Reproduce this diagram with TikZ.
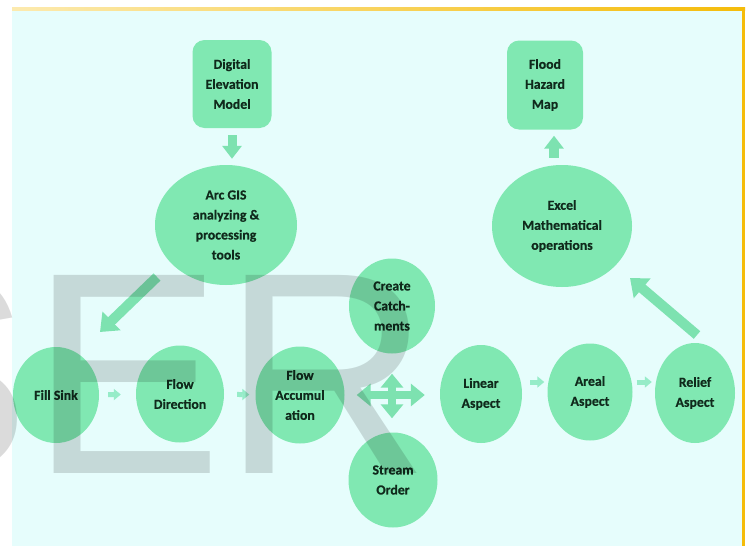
\documentclass[tikz,border=0pt]{standalone}
\usepackage{fontspec}
\setmainfont{Carlito}
\newfontfamily\lblfont[FakeBold=0.5]{Carlito Bold}
\newfontfamily\wmfont{Liberation Sans}
\usetikzlibrary{calc,arrows.meta,shapes.geometric}
\definecolor{bgc}{RGB}{230,253,252}
\definecolor{nodec}{RGB}{128,232,178}
\definecolor{txtc}{RGB}{16,42,28}
\definecolor{arrc}{RGB}{125,226,176}
\definecolor{arrlight}{RGB}{150,236,200}
\definecolor{bordc}{RGB}{245,188,10}
\definecolor{bordl}{RGB}{252,234,175}
\begin{document}
\begin{tikzpicture}[x=1pt,y=-1pt,
  lbl/.style={text=txtc, font=\lblfont\fontsize{13.8}{20}\selectfont, align=center, inner sep=0pt},
  oval/.style={lbl, ellipse, fill=nodec, draw=none},
  rbox/.style={lbl, rectangle, rounded corners=12pt, fill=nodec, draw=none},
  bigarrow/.style={draw=arrc, line width=10pt, -{Triangle[width=25pt,length=16pt]}},
  midarrow/.style={draw=arrc, line width=9pt, -{Triangle[width=19pt,length=13pt]}},
  tinyarrow/.style={draw=arrlight, line width=5pt, -{Triangle[width=11pt,length=7pt]}},
  quadarrow/.style={draw=arrc, line width=8pt, {Triangle[width=22pt,length=14pt]}-{Triangle[width=22pt,length=14pt]}}
]
\useasboundingbox (0,0) rectangle (746,546);
\fill[white] (0,0) rectangle (746,546);
\fill[bgc] (12,9) rectangle (743,546);
\shade[left color=bordl, right color=bordc] (12,7.5) rectangle (745,10);
\fill[bordc] (742,8) rectangle (745,546);

% nodes
\node[rbox, minimum width=79pt, minimum height=88pt] (dem) at (232,84) {Digital\\Elevation\\Model};
\node[rbox, minimum width=76pt, minimum height=89pt] (flood) at (545,85) {Flood\\Hazard\\Map};
\node[oval, minimum width=142pt, minimum height=120pt] (arc) at (226,225) {Arc GIS\\analyzing \&\\processing\\tools};
\node[oval, minimum width=140pt, minimum height=122pt] (excel) at (562,226) {Excel\\Mathematical\\operations};
\node[oval, minimum width=86pt, minimum height=96pt] (fill) at (56,395) {Fill Sink};
\node[oval, minimum width=88pt, minimum height=97pt] (fdir) at (180,394) {Flow\\Direction};
\node[oval, minimum width=89pt, minimum height=97pt] (facc) at (300,395) {Flow\\Accumul\\ation};
\node[oval, minimum width=86pt, minimum height=95pt] (catch) at (392,306) {Create\\Catch-\\ments};
\node[oval, minimum width=89pt, minimum height=95pt] (stream) at (393,480) {Stream\\Order};
\node[oval, minimum width=82pt, minimum height=98pt] (linear) at (481,394) {Linear\\Aspect};
\node[oval, minimum width=85pt, minimum height=97pt] (areal) at (590,392) {Areal\\Aspect};
\node[oval, minimum width=80pt, minimum height=100pt] (relief) at (695,393) {Relief\\Aspect};

% connectors
\draw[midarrow, shorten <=7pt, shorten >=6pt] (dem.south) -- (dem.south |- arc.north);
\draw[bigarrow] ($(arc)+(-69,52)$) -- ($(fill)+(44,-63)$);
\draw[tinyarrow, shorten <=9pt, shorten >=15pt] (fill) -- (fdir);
\draw[tinyarrow, shorten <=13pt, shorten >=6pt] (fdir) -- (facc);
\draw[quadarrow, shorten <=12pt, shorten >=15pt] (facc.east) -- (linear.west |- facc.east);
\draw[quadarrow, shorten <=20pt, shorten >=14pt] (catch.south) -- (catch.south |- stream.north);
\draw[tinyarrow, shorten <=8pt, shorten >=3pt] ([yshift=12pt]linear.east) -- ([yshift=12pt]linear.east -| areal.west);
\draw[tinyarrow, shorten <=4pt, shorten >=3pt] ([yshift=10pt]areal.east) -- ([yshift=10pt]areal.east -| relief.west);
\draw[bigarrow] ($(relief)+(2,-58)$) -- ($(excel)+(68,52)$);
\draw[midarrow, line width=10pt, shorten <=7pt, shorten >=6pt] ([xshift=9pt]flood.south |- excel.north) -- ([xshift=9pt]flood.south);

% watermark
\begin{scope}
\clip (0,0) rectangle (746,546);
\node[anchor=base west, inner sep=0pt, text=black, text opacity=0.14, font=\wmfont\fontsize{288}{288}\selectfont] (wm) at (-162,473) {SER};
\end{scope}
\end{tikzpicture}
\end{document}
